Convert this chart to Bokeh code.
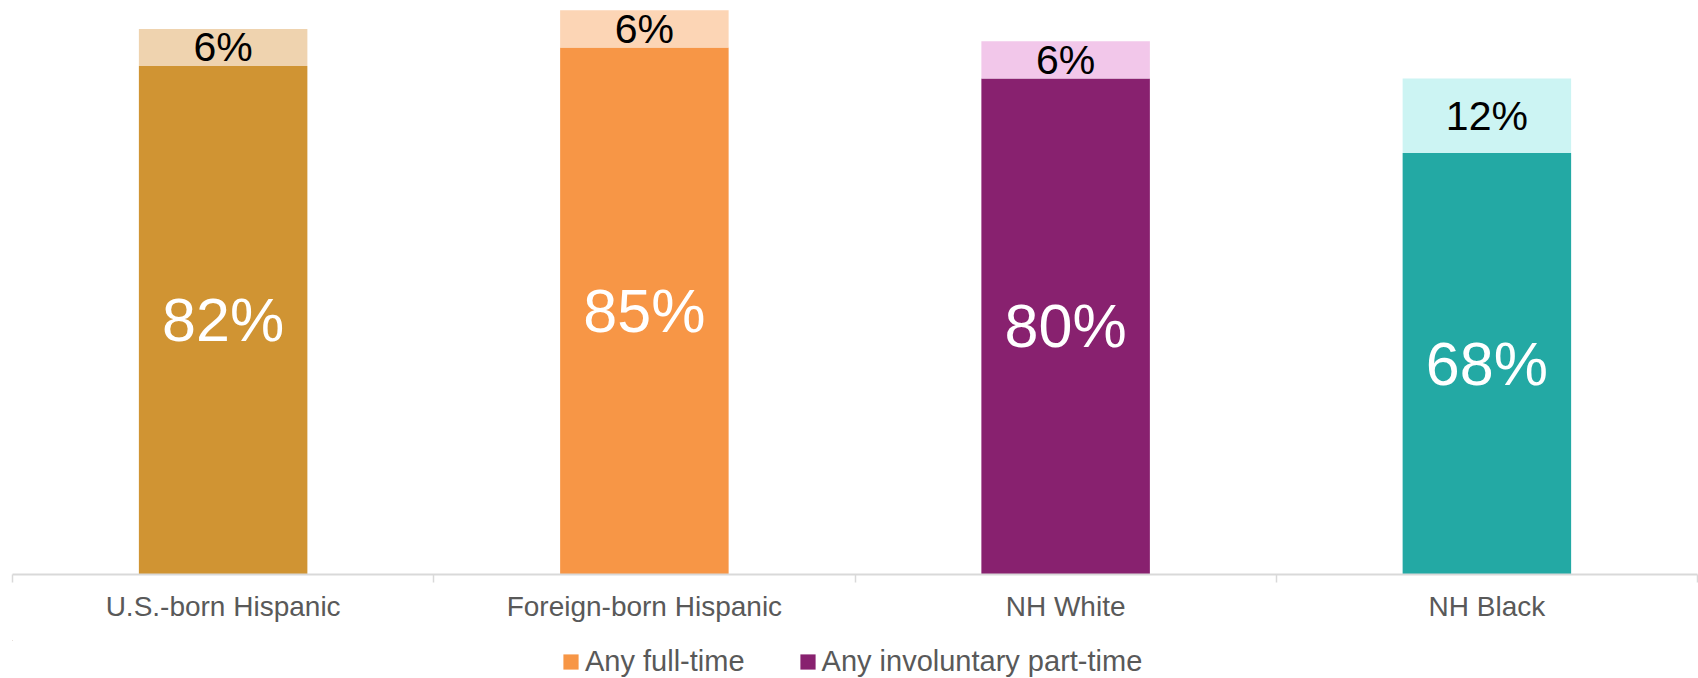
from bokeh.plotting import figure
from bokeh.layouts import column
from bokeh.models import (ColumnDataSource, Range1d, FixedTicker, Legend, LegendItem)
from bokeh.core.properties import value
from bokeh.embed import file_html
from bokeh.resources import INLINE

categories = ["U.S.-born Hispanic", "Foreign-born Hispanic", "NH White", "NH Black"]
full_time = [82, 85, 80, 68]
involuntary = [6, 6, 6, 12]
dark_colors = ["#D09433", "#F79646", "#88216F", "#23A9A4"]
light_colors = ["#EFD3AF", "#FCD5B5", "#F2C7EA", "#CCF4F3"]
legend_labels = ["Any full-time", "Any involuntary part-time"]

FONT = "Liberation Sans"

xpos = [i + 0.5 for i in range(len(categories))]
tops = [f + v for f, v in zip(full_time, involuntary)]

src = ColumnDataSource(dict(
    x=xpos,
    full=full_time,
    inv=involuntary,
    top=tops,
    full_mid=[f / 2 for f in full_time],
    inv_mid=[f + v / 2 for f, v in zip(full_time, involuntary)],
    full_lab=[f"{f}%" for f in full_time],
    inv_lab=[f"{v}%" for v in involuntary],
    dark=dark_colors,
    light=light_colors,
))

p = figure(width=1698, height=640, output_backend="svg", toolbar_location=None,
           x_range=Range1d(0, len(categories)), y_range=Range1d(0, 92.58),
           y_axis_location=None, min_border_left=12, min_border_right=1,
           min_border_top=0, min_border_bottom=66)
p.outline_line_color = None
p.xgrid.visible = False
p.ygrid.visible = False

r_full = p.vbar(x="x", width=0.4, bottom=0, top="full", fill_color="dark",
                line_color=None, source=src)
r_inv = p.vbar(x="x", width=0.4, bottom="full", top="top", fill_color="light",
               line_color=None, source=src)

p.text(x="x", y="full_mid", text="full_lab", source=src, text_color="white",
       text_font=value(FONT), text_font_size="61px", text_align="center",
       text_baseline="middle")
p.text(x="x", y="inv_mid", text="inv_lab", source=src, text_color="black",
       text_font=value(FONT), text_font_size="41px", text_align="center",
       text_baseline="middle")

ax = p.xaxis[0]
ax.ticker = FixedTicker(ticks=xpos, minor_ticks=list(range(len(categories) + 1)))
ax.major_label_overrides = {x: c for x, c in zip(xpos, categories)}
ax.axis_line_color = "#D9D9D9"
ax.axis_line_width = 2
ax.major_tick_line_color = None
ax.major_tick_out = 0
ax.major_tick_in = 0
ax.minor_tick_line_color = "#D9D9D9"
ax.minor_tick_line_width = 1.5
ax.minor_tick_out = 8
ax.minor_tick_in = 0
ax.major_label_text_font = FONT
ax.major_label_text_font_size = "28px"
ax.major_label_text_color = "#595959"
ax.major_label_standoff = 8

# Legend strip below the chart (its helper renderer lies outside its ranges)
p2 = figure(width=1698, height=38, output_backend="svg", toolbar_location=None,
            x_range=Range1d(6, 7), y_range=Range1d(-3, -2),
            x_axis_location=None, y_axis_location=None,
            min_border_left=0, min_border_right=0, min_border_top=0,
            min_border_bottom=0)
p2.outline_line_color = None
p2.xgrid.visible = False
p2.ygrid.visible = False
l_full = p2.vbar(x="x", width=0.4, bottom=0, top="full", fill_color="dark",
                 line_color=None, source=src)

legend = Legend(items=[
    LegendItem(label=legend_labels[0], renderers=[l_full], index=1),
    LegendItem(label=legend_labels[1], renderers=[l_full], index=2),
], location=(549, 0), orientation="horizontal", padding=0, margin=0,
    spacing=53, label_standoff=5, glyph_width=19, glyph_height=19,
    border_line_color=None, background_fill_alpha=0,
    label_text_font=FONT, label_text_font_size="29px",
    label_text_color="#595959")
p2.add_layout(legend, "center")

layout = column(p, p2, spacing=0)
open("out.html", "w").write(file_html(layout, INLINE))
